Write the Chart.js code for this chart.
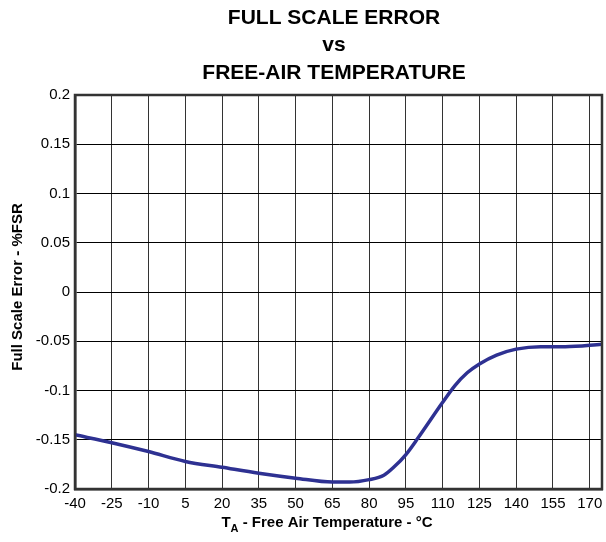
<!DOCTYPE html>
<html>
<head>
<meta charset="utf-8">
<script src="https://cdn.jsdelivr.net/npm/chart.js@4.4.1/dist/chart.umd.min.js"></script>
<style>
  html, body { margin: 0; padding: 0; background: #fff; }
  #wrap { width: 606px; height: 542px; }
</style>
</head>
<body>
<div id="wrap"><canvas id="c" width="606" height="542"></canvas></div>
<script>
// ---- data ----
const titleLines = ["FULL SCALE ERROR", "vs", "FREE-AIR TEMPERATURE"];
const yAxisTitle = "Full Scale Error - %FSR";
const xAxisTitleMain = "T";
const xAxisTitleSub = "A";
const xAxisTitleRest = " - Free Air Temperature - °C";
const xTicks = [-40, -25, -10, 5, 20, 35, 50, 65, 80, 95, 110, 125, 140, 155, 170];
const yTicks = [-0.2, -0.15, -0.1, -0.05, 0, 0.05, 0.1, 0.15, 0.2];
const temps = [-40, -25, -10, 5, 20, 35, 50, 65, 72, 80, 86, 90, 95, 100, 110, 115, 120, 125, 132, 140, 150, 160, 175];
const errors = [-0.145, -0.153, -0.162, -0.172, -0.178, -0.184, -0.189, -0.193, -0.193, -0.1905, -0.186, -0.178, -0.165, -0.148, -0.112, -0.095, -0.082, -0.073, -0.064, -0.058, -0.0555, -0.0555, -0.053];

const points = temps.map((t, i) => ({ x: t, y: errors[i] }));
const FONT = "'Liberation Sans', Arial, Helvetica, sans-serif";

const textPlugin = {
  id: 'texts',
  afterDraw(chart) {
    const ctx = chart.ctx;
    ctx.save();
    ctx.fillStyle = '#000';
    // title
    ctx.font = 'bold 21px ' + FONT;
    ctx.textAlign = 'center';
    ctx.textBaseline = 'middle';
    const cx = 334;
    const ys = [18.5, 45.5, 73.5];
    titleLines.forEach((l, i) => ctx.fillText(l, cx, ys[i]));
    // y axis title
    ctx.save();
    ctx.translate(18, 287);
    ctx.rotate(-Math.PI / 2);
    ctx.font = 'bold 15px ' + FONT;
    ctx.textAlign = 'center';
    ctx.textBaseline = 'middle';
    ctx.fillText(yAxisTitle, 0, 0);
    ctx.restore();
    // x axis title with subscript
    ctx.font = 'bold 15px ' + FONT;
    const wT = ctx.measureText(xAxisTitleMain).width;
    const wR = ctx.measureText(xAxisTitleRest).width;
    ctx.font = 'bold 11px ' + FONT;
    const wS = ctx.measureText(xAxisTitleSub).width;
    const total = wT + wS + wR;
    let x = 327 - total / 2;
    const base = 527;
    ctx.textAlign = 'left';
    ctx.textBaseline = 'alphabetic';
    ctx.font = 'bold 15px ' + FONT;
    ctx.fillText(xAxisTitleMain, x, base);
    x += wT;
    ctx.font = 'bold 11px ' + FONT;
    ctx.fillText(xAxisTitleSub, x, base + 5);
    x += wS;
    ctx.font = 'bold 15px ' + FONT;
    ctx.fillText(xAxisTitleRest, x, base);
    ctx.restore();
  }
};

new Chart(document.getElementById('c'), {
  type: 'scatter',
  data: {
    datasets: [{
      data: points,
      showLine: true,
      borderColor: '#2e3192',
      borderWidth: 3.5,
      pointRadius: 0,
      cubicInterpolationMode: 'monotone',
      fill: false
    }]
  },
  options: {
    responsive: false,
    animation: false,
    devicePixelRatio: 1,
    layout: { padding: { top: 95, right: 4, left: 0, bottom: 0 } },
    plugins: { legend: { display: false }, title: { display: false }, tooltip: { enabled: false } },
    scales: {
      x: {
        type: 'linear',
        min: -40,
        max: 175,
        afterBuildTicks: s => { s.ticks = xTicks.map(v => ({ value: v })); },
        afterFit: s => { s.height = 53; s.paddingLeft = 0; s.paddingRight = 0; },
        grid: { color: '#333', lineWidth: 1, drawTicks: false },
        border: { color: '#333', width: 2.5 },
        ticks: {
          font: { family: FONT, size: 15 },
          color: '#000',
          padding: 6,
          maxRotation: 0,
          autoSkip: false,
          callback: v => String(v)
        }
      },
      y: {
        type: 'linear',
        min: -0.2,
        max: 0.2,
        afterBuildTicks: s => { s.ticks = yTicks.map(v => ({ value: v })); },
        afterFit: s => { s.width = 75; s.paddingTop = 0; s.paddingBottom = 0; },
        grid: { color: '#000', lineWidth: 1, drawTicks: false },
        border: { color: '#333', width: 2.5 },
        ticks: {
          font: { family: FONT, size: 15 },
          color: '#000',
          padding: 5,
          autoSkip: false,
          callback: v => String(Math.round(v * 100) / 100)
        }
      }
    }
  },
  plugins: [textPlugin, {
    id: 'frame',
    afterDraw(chart) {
      const ctx = chart.ctx, a = chart.chartArea;
      ctx.save();
      ctx.strokeStyle = '#333';
      ctx.lineWidth = 2.5;
      ctx.strokeRect(a.left, a.top, a.right - a.left, a.bottom - a.top);
      ctx.restore();
    }
  }]
});
</script>
</body>
</html>
